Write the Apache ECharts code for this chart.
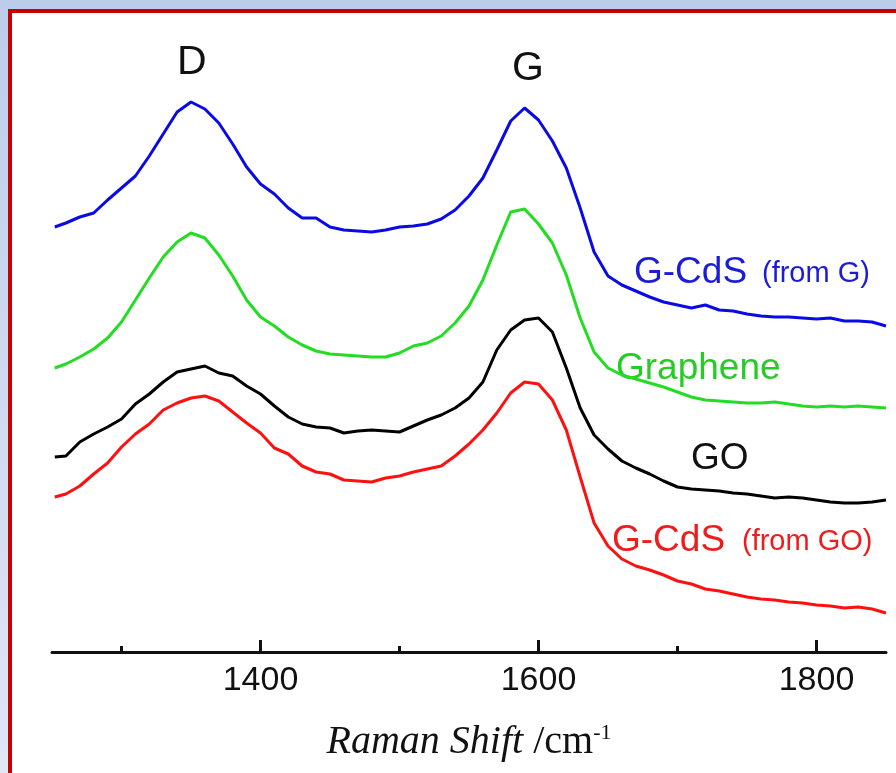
<!DOCTYPE html>
<html>
<head>
<meta charset="utf-8">
<script src="https://cdn.jsdelivr.net/npm/echarts@6/dist/echarts.min.js"></script>
<style>
  html, body { margin: 0; padding: 0; }
  body { width: 896px; height: 773px; overflow: hidden; background: linear-gradient(#bccdeb, #e0e7f5); position: relative; }
  #frame { position: absolute; left: 8px; top: 9px; width: 920px; height: 820px; border: 4px solid #c80000; background: #fff; }
  #main { position: absolute; left: 0; top: 0; width: 896px; height: 773px; }
</style>
</head>
<body>
<div id="frame"></div>
<div id="main"></div>
<script>
// Raman shift (cm-1) sample positions
var ramanShift = [1252, 1260, 1270, 1280, 1290, 1300, 1310, 1320, 1330, 1340,
  1350, 1360, 1370, 1380, 1390, 1400, 1410, 1420, 1430, 1440,
  1450, 1460, 1470, 1480, 1490, 1500, 1510, 1520, 1530, 1540,
  1550, 1560, 1570, 1580, 1590, 1600, 1610, 1620, 1630, 1640,
  1650, 1660, 1670, 1680, 1690, 1700, 1710, 1720, 1730, 1740,
  1750, 1760, 1770, 1780, 1790, 1800, 1810, 1820, 1830, 1840, 1850];

// intensities (arb. units, stacked offsets as in the figure)
var gcdsFromG = [425, 429, 435, 439, 452, 464, 476, 496, 518, 540,
  550, 543, 529, 508, 485, 468, 458, 444, 434, 434,
  425, 422, 421, 420, 422, 425, 426, 428, 433, 442,
  456, 474, 502, 531, 544, 532, 511, 484, 444, 400,
  376, 367, 361, 355, 350, 347, 344, 347, 342, 341,
  338, 336, 335, 335, 334, 333, 334, 331, 331, 330, 326];

var graphene = [284, 288, 295, 303, 314, 330, 352, 374, 395, 410,
  419, 414, 397, 376, 352, 335, 326, 315, 307, 301,
  298, 297, 296, 295, 295, 299, 306, 309, 316, 329,
  346, 372, 407, 440, 443, 428, 409, 377, 334, 300,
  284, 277, 273, 269, 265, 260, 255, 252, 251, 250,
  249, 249, 250, 248, 246, 245, 246, 245, 246, 245, 244];

var go = [195, 196, 210, 218, 225, 233, 248, 258, 270, 280,
  283, 286, 279, 276, 266, 258, 246, 235, 228, 225,
  224, 219, 221, 222, 221, 220, 226, 232, 237, 244,
  254, 270, 302, 322, 332, 334, 320, 284, 244, 217,
  203, 191, 184, 178, 171, 165, 163, 162, 161, 159,
  158, 156, 154, 155, 154, 152, 150, 149, 149, 150, 152];

var gcdsFromGO = [155, 158, 166, 178, 189, 205, 218, 228, 242, 249,
  254, 256, 251, 240, 229, 219, 204, 198, 186, 180,
  178, 172, 171, 170, 174, 176, 180, 183, 186, 196,
  208, 222, 239, 259, 270, 268, 252, 222, 175, 129,
  106, 93, 86, 82, 77, 71, 68, 63, 61, 58,
  55, 53, 52, 50, 49, 47, 46, 44, 45, 43, 39];

var majorTicks = [1400, 1600, 1800];
var minorTicks = [1300, 1500, 1700];

function pairs(ys) {
  return ramanShift.map(function (x, i) { return [x, ys[i]]; });
}

var chart = echarts.init(document.getElementById('main'));

var sans = "'Liberation Sans', Arial, sans-serif";
var serif = "'Liberation Serif', 'Times New Roman', serif";

function spectrum(name, ys, color) {
  return {
    name: name,
    type: 'line',
    data: pairs(ys),
    showSymbol: false,
    smooth: false,
    lineStyle: { color: color, width: 3 },
    animation: false
  };
}

var option = {
  backgroundColor: 'transparent',
  animation: false,
  grid: { left: 52, right: 10, top: 52, bottom: 121 },
  xAxis: [
    {
      type: 'value',
      min: 1250,
      max: 1850,
      position: 'bottom',
      axisLine: { lineStyle: { color: '#111', width: 3 } },
      axisTick: { inside: true, length: 12, customValues: majorTicks, lineStyle: { color: '#111', width: 3 } },
      axisLabel: {
        customValues: majorTicks,
        formatter: function (v) { return String(v); },
        color: '#111',
        fontSize: 34,
        fontFamily: sans,
        margin: 12
      },
      splitLine: { show: false },
      name: '{it|Raman Shift}{n| /cm}{sup|-1}',
      nameLocation: 'middle',
      nameGap: 70,
      nameTextStyle: {
        rich: {
          it: { fontFamily: serif, fontStyle: 'italic', fontSize: 40, color: '#111' },
          n: { fontFamily: serif, fontSize: 40, color: '#111' },
          sup: { fontFamily: serif, fontSize: 22, color: '#111', verticalAlign: 'top', padding: [0, 0, 18, 0] }
        }
      }
    },
    {
      type: 'value',
      min: 1250,
      max: 1850,
      position: 'bottom',
      axisLine: { show: false },
      axisTick: { inside: true, length: 6, customValues: minorTicks, lineStyle: { color: '#111', width: 3 } },
      axisLabel: { show: false },
      splitLine: { show: false }
    }
  ],
  yAxis: {
    type: 'value',
    min: 0,
    max: 600,
    show: false
  },
  series: [
    spectrum('G-CdS (from G)', gcdsFromG, '#0a0ae6'),
    spectrum('Graphene', graphene, '#22dd22'),
    spectrum('GO', go, '#000000'),
    spectrum('G-CdS (from GO)', gcdsFromGO, '#ff1010')
  ],
  graphic: [
    { type: 'text', left: 177, top: 42, style: { text: 'D', font: '41px ' + sans, fill: '#111' } },
    { type: 'text', left: 512, top: 48, style: { text: 'G', font: '41px ' + sans, fill: '#111' } },
    { type: 'text', left: 634, top: 254, style: { text: 'G-CdS', font: '37px ' + sans, fill: '#1c1cd8' } },
    { type: 'text', left: 762, top: 259, style: { text: '(from G)', font: '29px ' + sans, fill: '#1c1cd8' } },
    { type: 'text', left: 616, top: 350, style: { text: 'Graphene', font: '37px ' + sans, fill: '#26cc26' } },
    { type: 'text', left: 691, top: 440, style: { text: 'GO', font: '37px ' + sans, fill: '#111' } },
    { type: 'text', left: 612, top: 522, style: { text: 'G-CdS', font: '37px ' + sans, fill: '#ee1c1c' } },
    { type: 'text', left: 742, top: 527, style: { text: '(from GO)', font: '29px ' + sans, fill: '#ee1c1c' } }
  ]
};

chart.setOption(option);
</script>
</body>
</html>
